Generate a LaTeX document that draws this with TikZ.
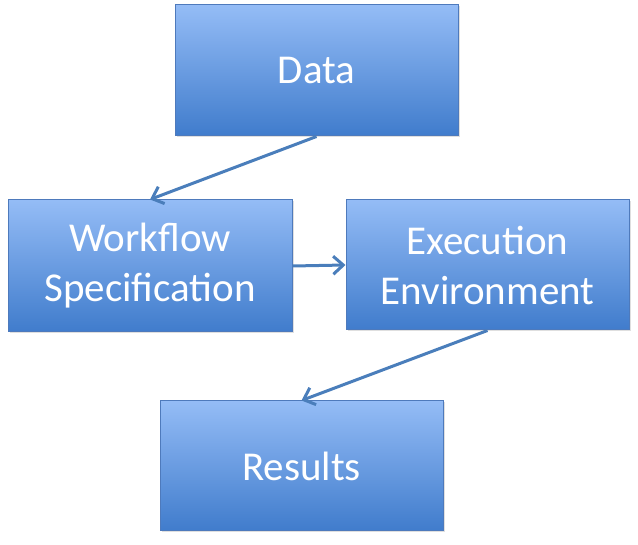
\documentclass[tikz,border=0pt]{standalone}
\usepackage{fontspec}
\setmainfont{Carlito}
\usetikzlibrary{arrows.meta,shadows}
\definecolor{boxtop}{RGB}{148,188,246}
\definecolor{boxbot}{RGB}{64,124,204}
\definecolor{boxline}{RGB}{78,122,188}
\definecolor{arrowblue}{RGB}{74,126,187}
\tikzset{
  stagebox/.style={rectangle, draw=boxline, line width=1pt, top color=boxtop, bottom color=boxbot,
    text=white, align=center, inner sep=0pt, font=\fontsize{41}{50}\selectfont,
    drop shadow={shadow xshift=1.5pt, shadow yshift=-1.5pt, opacity=0.25}},
  flow/.style={draw=arrowblue, line width=3pt, -{Straight Barb[length=10pt,width=18pt,line width=3pt]}}
}
\begin{document}
\begin{tikzpicture}[x=1pt,y=-1pt]
\useasboundingbox (0,0) rectangle (638,545);
\node[stagebox, minimum width=283pt, minimum height=131pt] (data) at (316.5,70.5) {Data};
\node[stagebox, minimum width=284pt, minimum height=132pt] (spec) at (150,266) {Workflow\\Specification};
\node[stagebox, minimum width=283pt, minimum height=130pt] (exec) at (487.5,265) {Execution\\Environment};
\node[stagebox, minimum width=283pt, minimum height=130pt] (res) at (301.5,466) {Results};
\draw[flow] (data.south) -- (spec.north);
\draw[flow] (spec.east) -- (exec.west);
\draw[flow] (exec.south) -- (res.north);
\end{tikzpicture}
\end{document}
